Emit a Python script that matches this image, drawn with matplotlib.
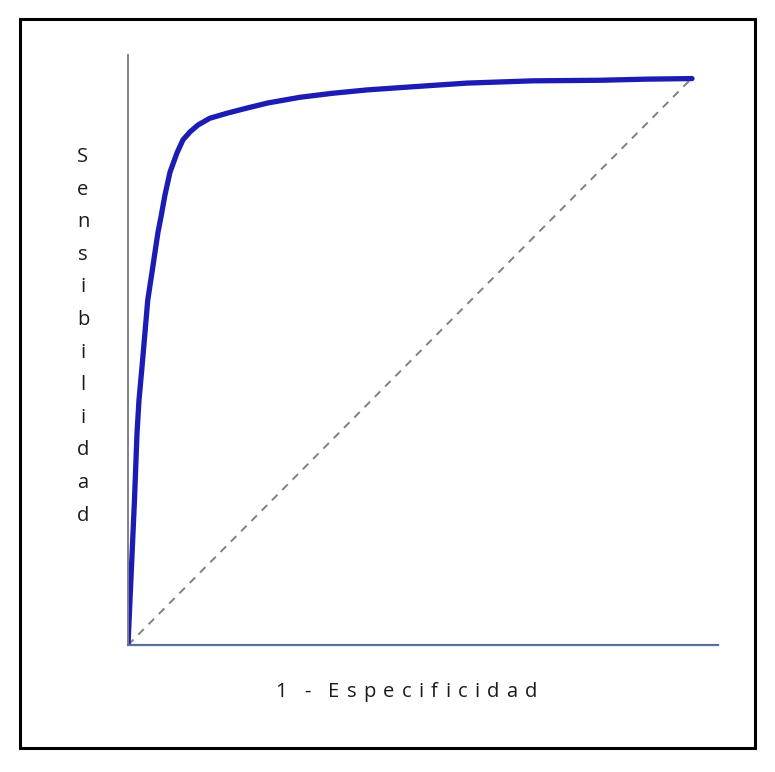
import matplotlib.pyplot as plt
from matplotlib.patches import Rectangle

# curva ROC
fpr = [0.0, 0.0035, 0.0062, 0.0115, 0.016, 0.0195, 0.0248, 0.030, 0.035,
       0.044, 0.053, 0.0585, 0.0656, 0.0745, 0.0869, 0.0975, 0.110, 0.124,
       0.145, 0.176, 0.211, 0.248, 0.305, 0.362, 0.424, 0.482, 0.541, 0.601,
       0.718, 0.837, 0.92, 1.0]
tpr = [0.0, 0.079, 0.138, 0.256, 0.374, 0.432, 0.490, 0.550, 0.608,
       0.667, 0.727, 0.755, 0.794, 0.834, 0.868, 0.891, 0.905, 0.917,
       0.929, 0.938, 0.947, 0.956, 0.966, 0.973, 0.979, 0.983, 0.987, 0.991,
       0.995, 0.996, 0.998, 0.999]
diag = [0.0, 1.0]

ylabel = "Sensibilidad"
xlabel = "1 - Especificidad"

fig = plt.figure(figsize=(7.75, 7.72), dpi=100)
fig.patches.append(Rectangle((20 / 775, 1 - 748 / 772), 735 / 775, 729 / 772,
                             transform=fig.transFigure, fill=False,
                             edgecolor='black', linewidth=2.2))

ax = fig.add_axes([128 / 775, 1 - 645 / 772, 590 / 775, 590 / 772])
ax.plot(diag, diag, color='#808080', linestyle=(0, (4, 3.5)), linewidth=1.4)
ax.plot(fpr, tpr, color='#1c1cb4', linewidth=3.8, solid_capstyle='round',
        solid_joinstyle='round')

ax.set_xlim(0, 590 / 564)
ax.set_ylim(0, 590 / 567)
for s in ['top', 'right']:
    ax.spines[s].set_visible(False)
ax.spines['left'].set_color('#7f7f88')
ax.spines['left'].set_linewidth(1.4)
ax.spines['bottom'].set_color('#5b6f9c')
ax.spines['bottom'].set_linewidth(1.6)
ax.set_xticks([])
ax.set_yticks([])

font = ['Open Sans', 'DejaVu Sans']
fs = 14.5
for i, ch in enumerate(ylabel):
    fig.text(83 / 775, 1 - (157 + i * 32.6) / 772, ch, ha='center',
             va='center', fontsize=fs, family=font, color='#1a1a1a')

# etiqueta del eje x con espaciado entre letras
renderer = fig.canvas.get_renderer()
widths = []
for ch in xlabel:
    t = fig.text(0, 0, ch if ch != ' ' else '-', fontsize=fs, family=font)
    w = t.get_window_extent(renderer).width
    t.remove()
    widths.append(w * 0.5 if ch == ' ' else w)
target = 262
track = (target - sum(widths)) / (len(xlabel) - 1)
x = 406 - target / 2
for ch, w in zip(xlabel, widths):
    if ch != ' ':
        fig.text(x / 775, 1 - 692 / 772, ch, ha='left', va='center',
                 fontsize=fs, family=font, color='#1a1a1a')
    x += w + track

fig.savefig('out.png', dpi=100)
